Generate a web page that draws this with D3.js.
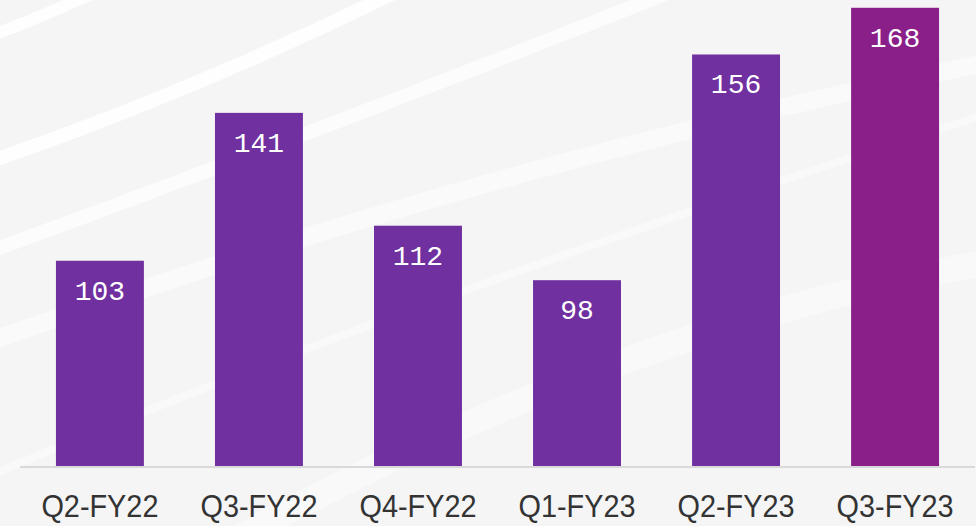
<!DOCTYPE html>
<html>
<head>
<meta charset="utf-8">
<script src="https://cdn.jsdelivr.net/npm/d3@7"></script>
<style>
html,body{margin:0;padding:0;background:#f5f5f6;overflow:hidden;}
svg{display:block;}
</style>
</head>
<body>
<svg id="chart" width="976" height="526"></svg>
<script>
const categories = ["Q2-FY22","Q3-FY22","Q4-FY22","Q1-FY23","Q2-FY23","Q3-FY23"];
const values = [103,141,112,98,156,168];
const barColors = ["#7030a0","#7030a0","#7030a0","#7030a0","#7030a0","#8a1f8a"];

const W = 976, H = 526;
const svg = d3.select("#chart");

// background
svg.append("rect").attr("width",W).attr("height",H).attr("fill","#f5f5f6");
const swoosh = [
  {d:"M-20,40 Q60,10 120,-20", w:12, o:0.9},
  {d:"M-20,165 Q200,90 420,-20", w:14, o:0.85},
  {d:"M-20,255 Q350,120 700,-20", w:14, o:0.7},
  {d:"M-20,345 Q500,160 1000,60", w:18, o:0.5},
  {d:"M200,560 Q600,330 1000,260", w:26, o:0.45},
  {d:"M-20,480 Q400,300 1000,110", w:8, o:0.4}
];
svg.append("g").selectAll("path").data(swoosh).join("path")
  .attr("d",d=>d.d).attr("fill","none").attr("stroke","#ffffff")
  .attr("stroke-width",d=>d.w).attr("stroke-opacity",d=>d.o)
  .attr("stroke-linecap","round");

const x = d3.scaleBand().domain(categories).range([20,975]).paddingInner(0.447).paddingOuter(0.226);
const y = d3.scaleLinear().domain([50,170]).range([467,0]);

const g = svg.append("g");
g.selectAll("rect.bar").data(values).join("rect").attr("class","bar")
  .attr("x",(d,i)=>x(categories[i]))
  .attr("y",d=>y(d))
  .attr("width",x.bandwidth())
  .attr("height",d=>y(50)-y(d))
  .attr("fill",(d,i)=>barColors[i]);

g.selectAll("text.val").data(values).join("text").attr("class","val")
  .attr("x",(d,i)=>x(categories[i])+x.bandwidth()/2)
  .attr("y",d=>y(d)+39)
  .attr("text-anchor","middle")
  .attr("fill","#ffffff")
  .attr("font-family","'Liberation Mono', monospace")
  .attr("font-size",28)
  .text(d=>d);

// axis
const xAxis = d3.axisBottom(x).tickSize(0).tickPadding(0);
const ax = svg.append("g").attr("transform",`translate(0,${y(50)})`).call(xAxis);
ax.select(".domain").attr("stroke","#d9d9d9").attr("stroke-width",2).attr("d","M20,0H975");
ax.selectAll(".tick text")
  .attr("fill","#333333")
  .attr("font-family","'Liberation Sans', Arial, sans-serif")
  .attr("font-size",32)
  .attr("y",50)
  .attr("dy",0)
  .attr("textLength",117)
  .attr("lengthAdjust","spacingAndGlyphs");
</script>
</body>
</html>
